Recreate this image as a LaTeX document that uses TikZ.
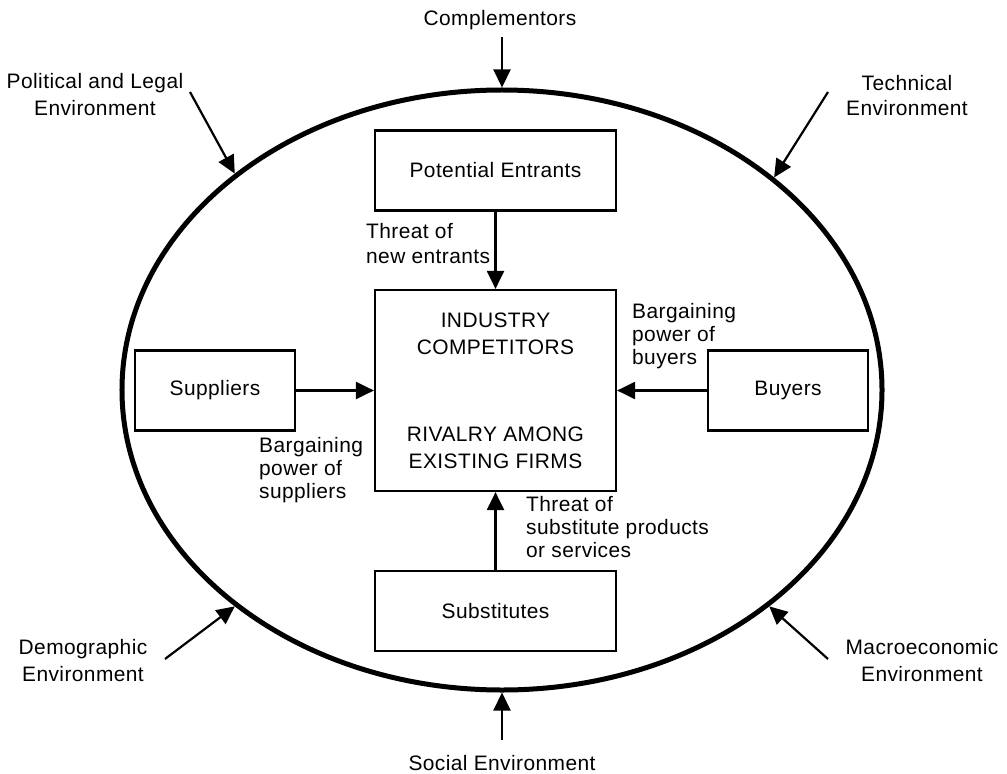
\documentclass[tikz,border=0pt]{standalone}
\usepackage{fontspec}
\setmainfont{Liberation Sans}[LetterSpace=2.0]
\usetikzlibrary{arrows.meta,shapes.geometric}
\begin{document}
\begin{tikzpicture}[x=1bp,y=-1bp,
  every node/.style={inner sep=0pt},
  force/.style={draw, line width=2.2bp, minimum width=241bp, minimum height=80bp,
    font=\fontsize{21}{27}\selectfont, align=center},
  sidebox/.style={force, minimum width=160bp},
  outerlabel/.style={font=\fontsize{21}{27}\selectfont, align=center, anchor=base},
  innerlabel/.style={font=\fontsize{21}{23}\selectfont, align=left, anchor=base west},
  link/.style={line width=2.2bp, -{Triangle[length=18bp,width=17bp]}},
  ]
\useasboundingbox (0,0) rectangle (1007,774);

% industry environment
\node[draw, ellipse, line width=5bp, minimum width=760bp, minimum height=600bp] (env) at (502,390) {};

% five forces
\node[force] (entrants) at (495.5,170.5) {Potential Entrants};
\node[force, minimum height=201bp] (industry) at (495.5,390.5)
  {INDUSTRY\\COMPETITORS\\[60bp]RIVALRY AMONG\\EXISTING FIRMS};
\node[sidebox] (suppliers) at (215,390.5) {Suppliers};
\node[sidebox] (buyers) at (788,390.5) {Buyers};
\node[force] (substitutes) at (495.5,611) {Substitutes};

\draw[link] (entrants) -- (industry);
\draw[link] (suppliers) -- (industry);
\draw[link] (buyers) -- (industry);
\draw[link] (substitutes) -- (industry);

% labels are anchored at the baseline of their last line
\node[innerlabel, font=\fontsize{21}{25}\selectfont] (lblentr) at (366,263) {Threat of\\new entrants};
\node[innerlabel] (lblsupp) at (259,498.5) {Bargaining\\power of\\suppliers};
\node[innerlabel] (lblbuy) at (632,364) {Bargaining\\power of\\buyers};
\node[innerlabel] (lblsubs) at (526,557) {Threat of\\substitute products\\or services};

% external influences
\node[outerlabel] (compl) at (500,26) {Complementors};
\node[outerlabel] (polit) at (95,115) {Political and Legal\\Environment};
\node[outerlabel, font=\fontsize{21}{25}\selectfont] (techn) at (907,115) {Technical\\Environment};
\node[outerlabel] (demog) at (83,681) {Demographic\\Environment};
\node[outerlabel] (macro) at (922,681) {Macroeconomic\\Environment};
\node[outerlabel] (social) at (502,770) {Social Environment};

\coordinate (complstart) at (502,37);
\coordinate (politstart) at (190,92);
\coordinate (technstart) at (828,92);
\coordinate (demogstart) at (165,659);
\coordinate (macrostart) at (828,659);
\coordinate (socialstart) at (502,740);

\draw[link] (complstart) -- (env.north);
\draw[link] (politstart) -- (env.141.2);
\draw[link] (technstart) -- (env.38.3);
\draw[link] (demogstart) -- (env.219.2);
\draw[link] (macrostart) -- (env.321.2);
\draw[link] (socialstart) -- (env.south);
\end{tikzpicture}
\end{document}
